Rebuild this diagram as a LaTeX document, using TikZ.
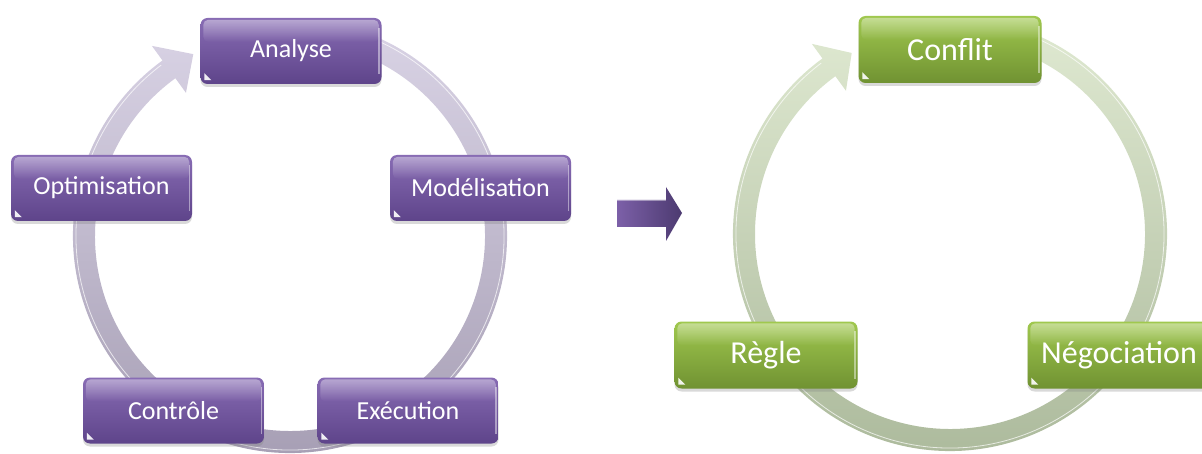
\documentclass[tikz,border=0pt]{standalone}
\usepackage{fontspec}
\setmainfont{Carlito}
\usetikzlibrary{shadows,fadings}

\definecolor{purpTop}{RGB}{136,108,180}
\definecolor{purpBot}{RGB}{94,68,138}
\definecolor{greenTop}{RGB}{160,200,78}
\definecolor{greenBot}{RGB}{112,146,50}
\definecolor{ringPtop}{RGB}{216,210,228}
\definecolor{ringPbot}{RGB}{164,156,178}
\definecolor{ringGtop}{RGB}{222,232,208}
\definecolor{ringGbot}{RGB}{170,184,154}
\definecolor{arrL}{RGB}{124,96,168}
\definecolor{arrR}{RGB}{76,58,112}

\tikzset{
  basebox/.style={rounded corners=7pt, text=white, inner sep=0pt,
    drop shadow={shadow xshift=0pt, shadow yshift=-3pt, opacity=0.3}},
  pbox/.style={basebox, minimum width=181pt, minimum height=66pt,
    top color=purpTop, bottom color=purpBot, font=\fontsize{26}{30}\selectfont},
  gbox/.style={basebox, minimum width=183pt, minimum height=67pt,
    top color=greenTop, bottom color=greenBot, font=\fontsize{32}{36}\selectfont},
}

\newcommand\boxgloss[1]{%
  \fill[white,opacity=0.4,path fading=south,rounded corners=5pt]
    ([xshift=3pt,yshift=-2pt]#1.north west) rectangle ([xshift=-3pt,yshift=-24pt]#1.north east);
  \fill[white,opacity=0.9] ([xshift=4pt,yshift=4pt]#1.south west) -- ++(7pt,0) -- ++(-7pt,7pt) -- cycle;
  \draw[white,opacity=0.45,line width=1.5pt]
    ([xshift=-2.5pt,yshift=-10pt]#1.north east) -- ([xshift=-2.5pt,yshift=10pt]#1.south east);
}

% ring: #1 center, #2 top colour, #3 bottom colour, #4 tip angle
\newcommand\cyclering[4]{%
  \shade[top color=#2, bottom color=#3]
    ([shift={#1}]70:217pt) arc[start angle=70, end angle=-234, radius=217pt]
    -- ([shift={#1}]126:235pt) -- ([shift={#1}]#4:206pt) -- ([shift={#1}]126:177pt)
    -- ([shift={#1}]126:195pt) arc[start angle=-234, end angle=70, radius=195pt] -- cycle;
  \draw[white,opacity=0.7,line width=0.8pt]
    ([shift={#1}]70:214pt) arc[start angle=70, end angle=-233, radius=214pt];
  \draw[white,opacity=0.7,line width=0.8pt]
    ([shift={#1}]70:193.5pt) arc[start angle=70, end angle=-233, radius=193.5pt];
}

\begin{document}
\begin{tikzpicture}[x=1pt,y=1pt]
\useasboundingbox (0,0) rectangle (1202,453);

% rings
\cyclering{(290,217)}{ringPtop}{ringPbot}{118}
\cyclering{(950,219)}{ringGtop}{ringGbot}{118.5}

% left cycle boxes
\node[pbox] (analyse) at (291,402) {Analyse};
\node[pbox] (modelisation) at (480.5,265) {Modélisation};
\node[pbox] (execution) at (408,42.5) {Exécution};
\node[pbox] (controle) at (173.5,42.5) {Contrôle};
\node[pbox] (optimisation) at (101.5,265) {Optimisation};
\foreach \n in {analyse,modelisation,execution,controle,optimisation} {\boxgloss{\n}}

% right cycle boxes
\node[gbox] (conflit) at (950,403.5) {Conflit};
\node[gbox] (negociation) at (1119,98) {Négociation};
\node[gbox] (regle) at (766,98) {Règle};
\foreach \n in {conflit,negociation,regle} {\boxgloss{\n}}

% transition arrow
\shade[left color=arrL, right color=arrR]
  (617,226) -- (666,226) -- (666,212) -- (682,240) -- (666,266) -- (666,253) -- (617,253) -- cycle;
\draw[white,opacity=0.4,line width=0.8pt] (617,253) -- (666,253);
\end{tikzpicture}
\end{document}
